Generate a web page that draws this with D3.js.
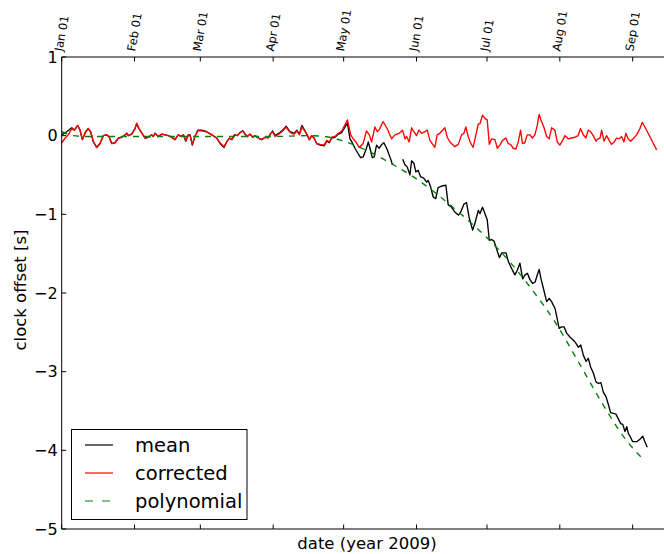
<!DOCTYPE html>
<html><head><meta charset="utf-8">
<script src="https://cdn.jsdelivr.net/npm/d3@7"></script>
<style>body{margin:0;background:#fff}svg{display:block;font-family:"DejaVu Sans",sans-serif}</style>
</head><body>
<svg id="c" width="664" height="554"></svg>
<script>
// ---- data (day of year 2009 counted from Jan 01, value in seconds) ----
const yTicks = [-5, -4, -3, -2, -1, 0, 1];
const seriesNames = ["mean", "corrected", "polynomial"];
const seriesColors = ["#000000", "#ff0000", "#008000"];

const corrected = [
[0,-0.09],[1.5,-0.03],[2.8,0.01],[4.3,0.09],[5.4,0.07],[6.8,0.13],[7.8,0.07],[8.8,-0.05],[10.2,0.05],[11.3,0.09],
[12.3,0.05],[13.5,-0.08],[14.9,-0.15],[16.3,-0.10],[17.7,0.0],[19.1,0.01],[20.1,-0.01],[21.3,-0.10],[22.7,-0.09],[24.1,-0.03],
[25.5,-0.02],[27,0.01],[27.7,0.03],[28.4,0.0],[29.8,0.02],[31.2,0.09],[31.9,0.16],[32.9,0.09],[34,0.04],[35.5,-0.03],
[36.9,-0.02],[38.3,0.01],[39,-0.01],[39.7,0.03],[41.1,-0.01],[42.6,0.02],[44,0.01],[45.4,0.0],[46.8,-0.02],[48.2,-0.05],
[49.6,0.01],[50.8,-0.01],[51.8,0.01],[52.8,-0.06],[53.9,0.01],[54.6,0.01],[55.6,-0.11],[56.7,-0.01],[57.9,0.06],[59.6,0.06],
[61.7,0.05],[63.9,0.01],[66.0,-0.03],[67.7,-0.10],[69.1,-0.14],[70.2,-0.08],[71.4,-0.03],[72.4,-0.05],[73.5,0.01],[74.8,0.0],
[75.9,0.04],[77.1,0.06],[78.0,0.02],[79.0,-0.01],[80.2,0.02],[81.3,-0.02],[82.3,0.0],[83.7,-0.03],[85.1,-0.05],[86.6,-0.02],
[88.0,-0.03],[89.0,0.03],[89.8,0.05],[90.8,-0.01],[91.8,0.01],[92.9,0.03],[94.4,0.07],[95.5,0.11],[96.9,0.05],[97.9,0.03],
[99.0,0.02],[100.0,0.06],[101.2,0.01],[102.2,0.11],[103.2,0.07],[104.3,0.02],[105.4,-0.05],[106.4,0.0],[107.4,-0.03],[108.5,-0.10],
[110.0,-0.11],[111.7,-0.12],[112.8,-0.06],[113.9,-0.08],[114.9,-0.02],[116.3,-0.01],[117.8,0.03],[119.2,0.06],[120.6,0.14],[121.6,0.20],
[123.0,0.01],[124.1,-0.04],[125.2,-0.08],[126.6,-0.15],[128.3,-0.10],[129.7,0.06],[130.9,0.01],[131.9,-0.08],[133.3,0.11],[134.3,0.05],
[135.4,0.09],[136.8,0.18],[138.5,0.09],[140.4,-0.04],[141.8,0.01],[143.6,0.03],[145.1,0.07],[146.1,-0.04],[146.8,-0.01],[147.9,-0.08],
[148.9,0.10],[149.9,0.05],[151.0,0.0],[152.0,0.07],[153.2,0.03],[154.6,0.05],[155.6,0.07],[156.7,-0.06],[158.8,-0.15],[159.8,0.01],
[160.9,0.03],[163.1,0.10],[164.1,-0.02],[165.2,-0.08],[167.3,-0.14],[168.8,-0.11],[170.2,0.01],[171.2,0.03],[172.0,0.11],[173.0,-0.01],
[174.0,-0.09],[175.1,-0.15],[176.3,0.01],[177.3,0.15],[178.0,0.15],[179.1,0.26],[180.1,0.22],[181.1,0.20],[182.0,-0.11],[183.0,-0.04],
[184.4,-0.05],[185.4,-0.16],[186.5,-0.12],[187.6,-0.06],[189.1,-0.03],[190.0,-0.10],[191.0,-0.11],[192.2,-0.16],[193.3,-0.17],[194.3,-0.08],
[195.3,0.07],[196.1,-0.10],[197.1,-0.09],[198.1,0.01],[199.3,0.01],[200.3,-0.03],[201.4,0.01],[202.4,0.13],[203.2,0.27],[204.2,0.18],
[205.2,0.11],[206.4,-0.01],[207.5,-0.04],[208.5,0.10],[209.9,0.07],[210.9,-0.08],[212.0,-0.12],[213.2,-0.06],[214.2,0.0],[215.6,-0.04],
[217.0,-0.03],[218.4,-0.02],[219.8,0.0],[220.8,0.09],[222.0,0.01],[223.1,-0.03],[224.1,0.07],[225.1,0.05],[226.2,0.0],[227.4,-0.07],
[228.3,-0.04],[229.1,-0.03],[229.8,0.07],[230.8,-0.07],[231.9,0.0],[233.0,-0.06],[234.0,-0.11],[235.2,-0.08],[236.1,-0.03],[237.3,-0.04],
[238.3,-0.01],[239.3,-0.08],[240.1,0.03],[241.1,-0.04],[242.1,-0.07],[243.2,-0.04],[244.7,0.01],[246.1,0.09],[247.1,0.17],[248.2,0.11],
[249.6,0.03],[251.5,-0.08],[253.2,-0.18]
];

// null value = gap in the record
const mean = [
[0,0.01],[2.1,0.05],[4.3,0.10],[5.4,0.07],[6.8,0.13],[7.8,0.07],[8.8,-0.05],[10.2,0.05],[11.3,0.09],
[12.3,0.05],[13.5,-0.08],[14.9,-0.15],[16.3,-0.10],[17.7,0.0],[19.1,0.01],[20.1,-0.01],[21.3,-0.10],[22.7,-0.09],[24.1,-0.03],
[25.5,-0.02],[27,0.01],[27.7,0.03],[28.4,0.0],[29.8,0.02],[31.2,0.09],[31.9,0.15],[32.9,0.09],[34,0.04],[35.5,-0.03],
[36.9,-0.02],[38.3,0.01],[39,-0.01],[39.7,0.03],[41.1,-0.01],[42.6,0.02],[44,0.01],[45.4,0.0],[46.8,-0.02],[48.2,-0.05],
[49.6,0.01],[50.8,-0.01],[51.8,0.01],[52.8,-0.07],[53.9,0.01],[54.6,0.01],[55.6,-0.12],[56.7,-0.01],[57.9,0.07],[59.6,0.07],
[61.7,0.05],[63.9,0.01],[66.0,-0.03],[67.7,-0.11],[69.1,-0.15],[70.2,-0.08],[71.4,-0.03],[72.4,-0.05],[73.5,0.01],[74.8,0.0],
[75.9,0.04],[77.1,0.06],[78.0,0.02],[79.0,-0.01],[80.2,0.02],[81.3,-0.02],[82.3,0.0],[83.7,-0.03],[85.1,-0.05],[86.6,-0.02],
[88.0,-0.02],[89.0,0.03],[89.8,0.06],[90.8,0.0],[91.8,0.02],[92.9,0.04],[94.4,0.08],[95.5,0.12],[96.9,0.06],[97.9,0.04],
[99.0,0.03],[100.0,0.07],[101.2,0.02],[102.2,0.13],[103.2,0.08],[104.3,0.02],[105.4,-0.05],[106.4,0.0],[107.4,-0.03],[108.5,-0.10],
[110.0,-0.12],[111.7,-0.13],[112.8,-0.07],[113.9,-0.09],[114.9,-0.03],[116.3,-0.02],[117.8,0.02],[119.2,0.04],[120.6,0.11],[121.6,0.16],
[122.7,-0.04],[123.5,-0.08],[124.8,-0.16],[126.0,-0.22],[127.2,-0.28],[128.3,-0.27],[129.7,-0.16],[130.5,-0.08],[131.2,-0.16],[132.2,-0.28],
[133.0,-0.27],[134.0,-0.12],[135.1,-0.16],[136.0,-0.12],[137.1,-0.09],[138.3,-0.16],[139.7,-0.27],[140.8,-0.37],[142.5,null],
[145.1,-0.30],[146.1,-0.37],[147.1,-0.40],[148.2,-0.50],[148.9,-0.32],[149.9,-0.35],[150.7,-0.46],[151.7,-0.44],[152.7,-0.52],[154.1,-0.54],
[155.3,-0.59],[156.0,-0.57],[157.0,-0.65],[158.1,-0.78],[159.2,-0.80],[160.2,-0.66],[161.7,-0.64],[163.5,-0.63],[164.5,-0.88],[165.6,-0.90],
[167.3,-0.97],[168.8,-1.01],[169.7,-0.98],[171.2,-0.87],[172.3,-0.85],[173.4,-1.04],[174.9,-1.20],[175.9,-1.11],[177.3,-0.95],[178.0,-0.99],
[179.1,-0.91],[180.1,-0.99],[181.1,-1.07],[182.0,-1.33],[183.0,-1.32],[184.0,-1.34],[185.1,-1.44],[186.3,-1.55],[187.3,-1.49],[189.1,-1.49],
[190.1,-1.60],[191.5,-1.69],[192.9,-1.77],[193.9,-1.71],[195.0,-1.62],[196.2,-1.82],[197.2,-1.77],[198.2,-1.75],[199.3,-1.83],[200.5,-1.88],
[201.5,-1.86],[202.2,-1.79],[203.2,-1.70],[204.0,-1.82],[205.0,-1.94],[206.4,-2.11],[207.5,-2.07],[208.5,-2.11],[210.0,-2.20],[210.7,-2.30],
[211.7,-2.45],[212.8,-2.43],[213.8,-2.43],[214.9,-2.51],[216.3,-2.56],[217.8,-2.60],[218.9,-2.64],[219.9,-2.69],[220.9,-2.66],[222.0,-2.79],
[223.2,-2.87],[224.1,-2.83],[225.1,-2.94],[226.3,-3.02],[227.4,-3.13],[228.4,-3.15],[229.5,-3.14],[230.5,-3.26],[231.7,-3.32],[232.7,-3.42],
[233.6,-3.52],[234.8,-3.53],[235.9,-3.54],[236.9,-3.60],[237.9,-3.66],[238.8,-3.67],[239.7,-3.76],[240.5,-3.70],[241.2,-3.79],[241.9,-3.82],
[243.0,-3.89],[244.7,-3.89],[246.1,-3.86],[247.3,-3.82],[248.2,-3.89],[249.2,-3.96]
];

const polynomial = [
[0,0.05],[5,0.0],[10,-0.01],[30,-0.01],[60,-0.01],[90,-0.01],[105,0.0],[112,-0.01],[120,-0.07],[130,-0.19],
[140,-0.35],[150,-0.53],[160,-0.75],[170,-1.0],[180,-1.27],[190,-1.58],[200,-1.95],[210,-2.37],[220,-2.88],[230,-3.40],
[240,-3.86],[247,-4.10]
];

// ---- layout ----
(function () {
const svg = d3.select("#c");
const pL = 61.7, pT = 57, pB = 529, pR = 672.6;
const t0 = Date.UTC(2009, 0, 1);
const toDate = d => new Date(t0 + d * 864e5);
const x = d3.scaleUtc().domain([toDate(0), toDate(260)]).range([pL, pR]);
const y = d3.scaleLinear().domain([-5, 1]).range([pB, pT]);
const months = d3.utcMonth.range(toDate(0), toDate(244));
const fmt = d3.utcFormat("%b %d");

const line = d3.line().defined(p => p[1] !== null).x(p => x(toDate(p[0]))).y(p => y(p[1]));
const g = svg.append("g");

g.append("path").datum(mean).attr("d", line).attr("fill","none").attr("stroke",seriesColors[0]).attr("stroke-width",1.35).attr("stroke-linejoin","round");
g.append("path").datum(corrected).attr("d", line).attr("fill","none").attr("stroke",seriesColors[1]).attr("stroke-width",1.35).attr("stroke-linejoin","round");
g.append("path").datum(polynomial).attr("d", line.curve(d3.curveMonotoneX)).attr("fill","none").attr("stroke",seriesColors[2]).attr("stroke-width",1.35).attr("stroke-dasharray","6,6");

// spines
svg.append("line").attr("x1",pL).attr("x2",pR).attr("y1",pT).attr("y2",pT).attr("stroke","#000");
svg.append("line").attr("x1",pL).attr("x2",pR).attr("y1",pB).attr("y2",pB).attr("stroke","#000");
svg.append("line").attr("x1",pL).attr("x2",pL).attr("y1",pT).attr("y2",pB).attr("stroke","#000");

// y ticks (inward)
const yt = svg.append("g");
yTicks.forEach(v => {
  yt.append("line").attr("x1",pL).attr("x2",pL+4.5).attr("y1",y(v)).attr("y2",y(v)).attr("stroke","#000");
  yt.append("text").attr("x",pL-4).attr("y",y(v)).attr("text-anchor","end").attr("dominant-baseline","central")
    .attr("font-size",16).text(v < 0 ? "\u2212" + Math.abs(v) : String(v));
});

// x ticks: bottom (no labels) and top (rotated labels)
const xt = svg.append("g");
months.forEach(m => {
  const px = x(m);
  xt.append("line").attr("x1",px).attr("x2",px).attr("y1",pB).attr("y2",pB-4.5).attr("stroke","#000");
  xt.append("line").attr("x1",px).attr("x2",px).attr("y1",pT).attr("y2",pT+4.5).attr("stroke","#000");
  const t = xt.append("text").attr("font-size",11.5).attr("text-anchor","middle").attr("dominant-baseline","central").text(fmt(m));
  const w = t.node().getComputedTextLength();
  const a = 80 * Math.PI / 180;
  const h = 11.5;
  const bh = w * Math.sin(a) + h * Math.cos(a);
  const cy = 52 - bh / 2;
  t.attr("transform", `translate(${px},${cy}) rotate(-80)`);
});

// axis labels
svg.append("text").attr("x",367).attr("y",549).attr("text-anchor","middle").attr("font-size",16.5).text("date (year 2009)");
svg.append("text").attr("transform","translate(26,290) rotate(-90)").attr("text-anchor","middle").attr("font-size",16.5).text("clock offset [s]");

// legend
const lg = svg.append("g");
lg.append("rect").attr("x",71.5).attr("y",429.5).attr("width",175.5).attr("height",90).attr("fill","#fff").attr("stroke","#000");
seriesNames.forEach((n, i) => {
  const ly = 445 + i * 28;
  const l = lg.append("line").attr("x1",85).attr("x2",113).attr("y1",ly).attr("y2",ly).attr("stroke",seriesColors[i]).attr("stroke-width",1.2);
  if (i === 2) l.attr("stroke-dasharray","8,9");
  lg.append("text").attr("x",135).attr("y",ly).attr("dominant-baseline","central").attr("font-size",19.5).text(n);
});
})();
</script>
</body></html>
